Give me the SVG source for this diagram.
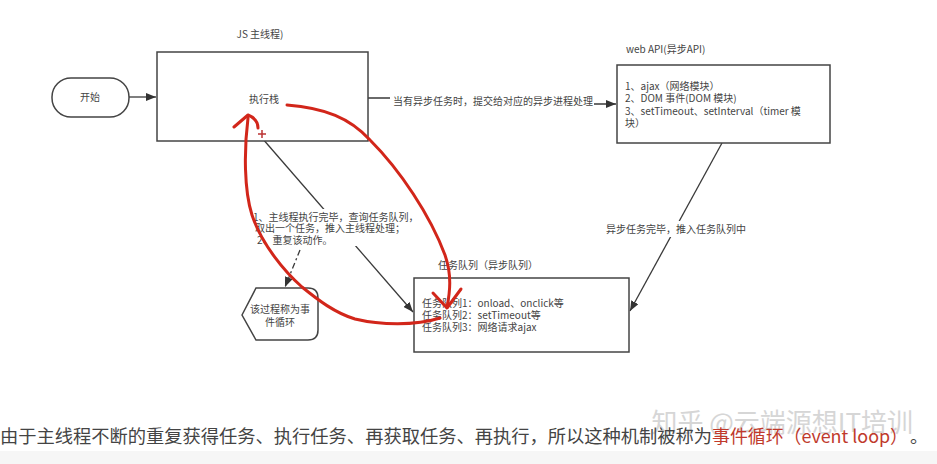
<svg xmlns="http://www.w3.org/2000/svg" width="937" height="464" viewBox="0 0 937 464">
<defs>
<style>
text{font-family:"Noto Sans CJK SC","Noto Sans",sans-serif;fill:#444;}
.t{font-size:10px;}
.box{fill:#fff;stroke:#444;stroke-width:1.5;}
.conn{fill:none;stroke:#3a3a3a;stroke-width:1.3;}
.red{fill:none;stroke:#d2261a;stroke-width:3;stroke-linecap:round;stroke-linejoin:round;}
.bg{fill:#fff;}
</style>
<marker id="arr" viewBox="0 0 10 8" refX="10" refY="4" markerWidth="10" markerHeight="8" markerUnits="userSpaceOnUse" orient="auto">
<path d="M0,0 L10,4 L0,8 Z" fill="#333"/>
</marker>
</defs>
<rect x="0" y="0" width="937" height="464" fill="#fff"/>
<rect x="0" y="451" width="937" height="13" fill="#f6f6f6"/>

<g id="connectors">
<path class="conn" d="M129,97 H156" marker-end="url(#arr)"/>
<path class="conn" d="M368,98 H480 V104 H616" marker-end="url(#arr)"/>
<path class="conn" d="M722,143 L630,311" marker-end="url(#arr)"/>
<path class="conn" d="M262,138 L413,312" marker-end="url(#arr)"/>
<path class="conn" d="M300,250 L285,287" stroke-dasharray="6,3,2,3" marker-end="url(#arr)"/>
<rect class="bg" x="390" y="93" width="204" height="16"/>
<text class="t" x="393" y="105" font-size="10.4">当有异步任务时，提交给对应的异步进程处理</text>
<rect class="bg" x="604" y="221" width="144" height="16"/>
<text class="t" x="606" y="233">异步任务完毕，推入任务队列中</text>
<rect class="bg" x="252" y="209" width="168" height="37"/>
<text class="t" x="253" y="221">1、主线程执行完毕，查询任务队列，</text>
<text class="t" x="255" y="232">取出一个任务，推入主线程处理；</text>
<text class="t" x="257" y="244">2、重复该动作。</text>
</g>

<g id="start">
<rect class="box" x="52" y="78" width="77" height="39" rx="19"/>
<text class="t" x="90" y="101" text-anchor="middle">开始</text>
</g>

<g id="main-thread">
<text class="t" x="260" y="38" text-anchor="middle">JS 主线程)</text>
<rect class="box" x="157" y="52" width="211" height="89"/>
<text class="t" x="264" y="103" text-anchor="middle">执行栈</text>
</g>

<g id="web-api">
<text class="t" x="626" y="53">web API(异步API)</text>
<rect class="box" x="617" y="65" width="213" height="78"/>
<text class="t" x="625" y="90">1、ajax（网络模块）</text>
<text class="t" x="625" y="102">2、DOM 事件(DOM 模块)</text>
<text class="t" x="625" y="115">3、setTimeout、setInterval（timer 模</text>
<text class="t" x="625" y="127">块）</text>
</g>

<g id="task-queue">
<text class="t" x="438" y="269">任务队列（异步队列）</text>
<rect class="box" x="414" y="278" width="215" height="74"/>
<text class="t" x="422" y="307">任务队列1：onload、onclick等</text>
<text class="t" x="422" y="319">任务队列2：setTimeout等</text>
<text class="t" x="422" y="331">任务队列3：网络请求ajax</text>
</g>

<g id="event-loop">
<path class="box" d="M242,315 L256,288 H308 Q318,288 318,298 V330 Q318,340 308,340 H256 Z"/>
<text class="t" x="280" y="313" text-anchor="middle">该过程称为事</text>
<text class="t" x="280" y="326" text-anchor="middle">件循环</text>
</g>

<g id="annotations">
<path class="red" d="M287,105 C325,108 350,118 370,140 C400,170 430,215 445,255 C452,275 450,292 447,307"/>
<path class="red" d="M433,293 L447,308 L461,289"/>
<path class="red" d="M440,318 C415,326 380,325 355,319 C335,313 318,300 302,287 C285,272 262,245 252,215 C244,190 244,150 248,118"/>
<path class="red" d="M234,127 L248,115 Q258,119 258,128"/>
<path d="M258,134 H266 M262,130 V138" stroke="#b33" stroke-width="1.5"/>
</g>

<g id="caption">
<text x="913" y="432" font-size="26" text-anchor="end" style="fill:#ccc;opacity:0.8">知乎 @云端源想IT培训</text>
<text x="0" y="443" font-size="18" textLength="712" lengthAdjust="spacingAndGlyphs">由于主线程不断的重复获得任务、执行任务、再获取任务、再执行，所以这种机制被称为</text>
<text x="712" y="443" font-size="18" style="fill:#c0392b" textLength="196" lengthAdjust="spacingAndGlyphs">事件循环（event loop）</text>
<text x="910" y="443" font-size="18">。</text>
</g>
</svg>
